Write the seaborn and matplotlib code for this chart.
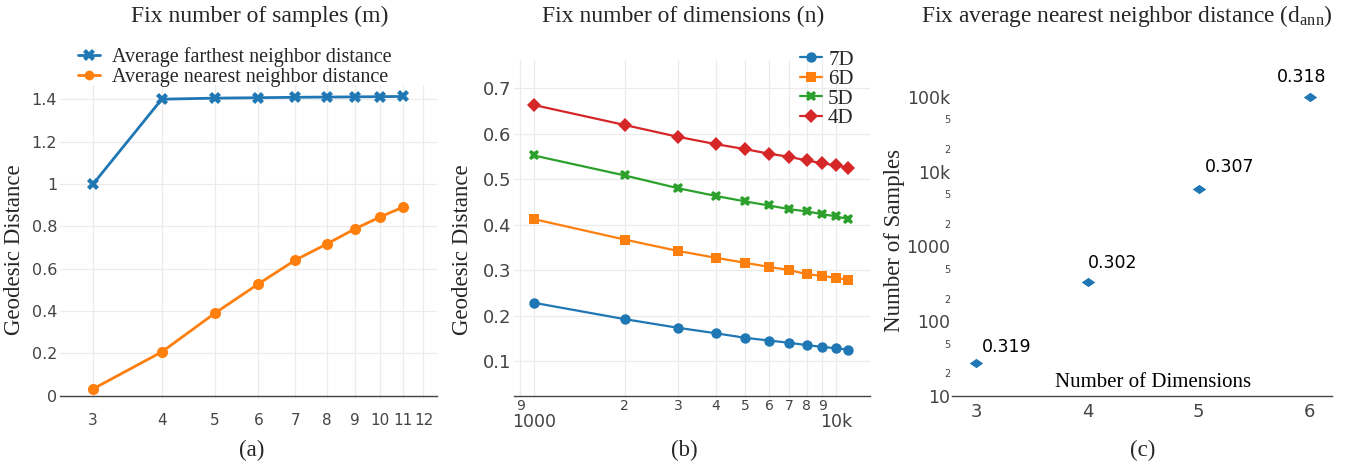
import numpy as np
import pandas as pd
import matplotlib
matplotlib.use("Agg")
import matplotlib.pyplot as plt
from matplotlib.lines import Line2D
from matplotlib.ticker import FixedLocator, FixedFormatter, NullLocator, NullFormatter
import seaborn as sns

# ---------------- data ----------------
a_dims = [3, 4, 5, 6, 7, 8, 9, 10, 11]
a_far = [1.000, 1.400, 1.405, 1.407, 1.409, 1.410, 1.411, 1.412, 1.413]
a_near = [0.033, 0.207, 0.390, 0.528, 0.640, 0.717, 0.788, 0.844, 0.890]
a_xticks = [3, 4, 5, 6, 7, 8, 9, 10, 11, 12]
a_yticks = [0, 0.2, 0.4, 0.6, 0.8, 1.0, 1.2, 1.4]
a_ylabels = ["0", "0.2", "0.4", "0.6", "0.8", "1", "1.2", "1.4"]
a_series = ["Average farthest neighbor distance", "Average nearest neighbor distance"]

b_samples = [1000, 2000, 3000, 4000, 5000, 6000, 7000, 8000, 9000, 10000, 11000]
b_7d = [0.228, 0.192, 0.173, 0.161, 0.151, 0.145, 0.140, 0.135, 0.131, 0.128, 0.125]
b_6d = [0.412, 0.367, 0.342, 0.327, 0.316, 0.307, 0.300, 0.291, 0.287, 0.283, 0.278]
b_5d = [0.552, 0.508, 0.480, 0.463, 0.451, 0.442, 0.434, 0.429, 0.423, 0.418, 0.412]
b_4d = [0.663, 0.619, 0.593, 0.577, 0.566, 0.556, 0.549, 0.541, 0.535, 0.530, 0.525]
b_series = ["7D", "6D", "5D", "4D"]
b_major = [1000, 10000]
b_major_labels = ["1000", "10k"]
b_minor = [900, 2000, 3000, 4000, 5000, 6000, 7000, 8000, 9000]
b_minor_labels = ["9", "2", "3", "4", "5", "6", "7", "8", "9"]
b_yticks = [0.1, 0.2, 0.3, 0.4, 0.5, 0.6, 0.7]

c_dims = [3, 4, 5, 6]
c_samples = [28, 330, 5800, 100000]
c_labels = ["0.319", "0.302", "0.307", "0.318"]
c_major = [10, 100, 1000, 10000, 100000]
c_major_labels = ["10", "100", "1000", "10k", "100k"]
c_minor = [20, 50, 200, 500, 2000, 5000, 20000, 50000]
c_minor_labels = ["2", "5", "2", "5", "2", "5", "2", "5"]

# ---------------- style ----------------
sns.set_style("white")
plt.rcParams["font.family"] = ["DejaVu Sans"]
plt.rcParams["mathtext.fontset"] = "custom"
plt.rcParams["mathtext.rm"] = "Liberation Serif"
plt.rcParams["mathtext.it"] = "Liberation Serif:italic"

SERIF = "Liberation Serif"
TICK = "#444444"
GRID = "#ebebeb"
BLUE, ORANGE, GREEN, RED = "#1f77b4", "#ff7f0e", "#2ca02c", "#d62728"

W, H = 1346, 465
fig = plt.figure(figsize=(W / 100, H / 100), dpi=100)


def rect(l, r, t, b):
    return [l / W, 1 - b / H, (r - l) / W, (b - t) / H]


def clean(ax):
    for s in ["top", "right", "left"]:
        ax.spines[s].set_visible(False)
    ax.spines["bottom"].set_color(TICK)
    ax.spines["bottom"].set_linewidth(1.0)
    ax.tick_params(which="both", length=0, colors=TICK)
    ax.set_facecolor("white")


# ---------------- (a) ----------------
axa = fig.add_axes(rect(60, 437, 85, 399))
dfa = pd.DataFrame({
    "dim": a_dims * 2,
    "dist": a_far + a_near,
    "kind": [a_series[0]] * len(a_dims) + [a_series[1]] * len(a_dims),
})
sns.lineplot(data=dfa, x="dim", y="dist", hue="kind", style="kind",
             palette={a_series[0]: BLUE, a_series[1]: ORANGE},
             markers={a_series[0]: "X", a_series[1]: "o"}, dashes=False,
             linewidth=2.0, markersize=8, markeredgewidth=0, legend=False, ax=axa)
axa.set_xscale("log")
axa.set_xlim(2.61, 12.7)
axa.set_ylim(-0.015, 1.467)
axa.spines["bottom"].set_position(("data", 0))
axa.xaxis.set_major_locator(FixedLocator(a_xticks))
axa.xaxis.set_major_formatter(FixedFormatter([str(v) for v in a_xticks]))
axa.xaxis.set_minor_locator(NullLocator())
axa.xaxis.set_minor_formatter(NullFormatter())
axa.set_yticks(a_yticks)
axa.set_yticklabels(a_ylabels)
clean(axa)
axa.tick_params(axis="x", labelsize=11, pad=12.5)
axa.tick_params(axis="y", labelsize=11.5, pad=2)
axa.grid(True, which="major", color=GRID, linewidth=0.9)
axa.set_axisbelow(True)
axa.set_xlabel("")
axa.set_ylabel("Geodesic Distance", family=SERIF, fontsize=16.5)
axa.yaxis.set_label_coords(-0.093, 0.475)
ha = [Line2D([], [], color=BLUE, lw=2, marker="X", ms=8, mew=0),
      Line2D([], [], color=ORANGE, lw=2, marker="o", ms=7, mew=0)]
fig.legend(ha, a_series, loc="upper left", bbox_to_anchor=(78 / W, 1 - 47 / H),
           frameon=False, prop={"family": SERIF, "size": 14.5},
           handlelength=1.1, handletextpad=0.6, labelspacing=0.05, borderpad=0,
           borderaxespad=0)

# ---------------- (b) ----------------
axb = fig.add_axes(rect(514, 870, 60, 396))
dfb = pd.DataFrame({
    "n": b_samples * 4,
    "dist": b_7d + b_6d + b_5d + b_4d,
    "dim": sum([[s] * len(b_samples) for s in b_series], []),
})
b_pal = {"7D": BLUE, "6D": ORANGE, "5D": GREEN, "4D": RED}
b_mk = {"7D": "o", "6D": "s", "5D": "X", "4D": "D"}
sns.lineplot(data=dfb, x="n", y="dist", hue="dim", style="dim", palette=b_pal,
             markers=b_mk, dashes=False, linewidth=1.6, markersize=7.5,
             markeredgewidth=0, legend=False, ax=axb)
axb.set_xscale("log")
axb.set_xlim(859, 12960)
axb.set_ylim(0.023, 0.762)
axb.xaxis.set_major_locator(FixedLocator(b_major))
axb.xaxis.set_major_formatter(FixedFormatter(b_major_labels))
axb.xaxis.set_minor_locator(FixedLocator(b_minor))
axb.xaxis.set_minor_formatter(FixedFormatter(b_minor_labels))
axb.set_yticks(b_yticks)
axb.set_yticklabels([f"{v:.1f}" for v in b_yticks])
clean(axb)
axb.tick_params(axis="x", which="major", labelsize=12.5, pad=12.5)
axb.tick_params(axis="x", which="minor", labelsize=10, pad=2.5)
axb.tick_params(axis="y", labelsize=13, pad=2)
axb.grid(True, axis="x", which="both", color=GRID, linewidth=0.9)
axb.grid(True, axis="y", which="major", color=GRID, linewidth=0.9)
axb.set_axisbelow(True)
axb.set_xlabel("")
axb.set_ylabel("Geodesic Distance", family=SERIF, fontsize=16.5)
axb.yaxis.set_label_coords(-0.115, 0.435)
hb = [Line2D([], [], color=b_pal[s], lw=1.6, marker=b_mk[s], ms=7.5, mew=0) for s in b_series]
fig.legend(hb, b_series, loc="upper left", bbox_to_anchor=(800 / W, 1 - 50 / H),
           frameon=False, prop={"family": SERIF, "size": 15},
           handlelength=1.05, handletextpad=0.3, labelspacing=0.0, borderpad=0,
           borderaxespad=0)

# ---------------- (c) ----------------
axc = fig.add_axes(rect(952, 1332, 60, 396))
dfc = pd.DataFrame({"dim": c_dims, "n": c_samples})
diamond = [(-1.45, 0), (0, 1), (1.45, 0), (0, -1)]
sns.scatterplot(data=dfc, x="dim", y="n", marker=diamond, s=95, color=BLUE,
                linewidth=0, ax=axc)
axc.set_yscale("log")
axc.set_xlim(2.78, 6.2)
axc.set_ylim(10, 10 ** 5.49)
axc.set_xticks(c_dims)
axc.set_xticklabels([str(v) for v in c_dims])
axc.yaxis.set_major_locator(FixedLocator(c_major))
axc.yaxis.set_major_formatter(FixedFormatter(c_major_labels))
axc.yaxis.set_minor_locator(FixedLocator(c_minor))
axc.yaxis.set_minor_formatter(FixedFormatter(c_minor_labels))
clean(axc)
axc.tick_params(axis="x", labelsize=13, pad=5)
axc.tick_params(axis="y", which="major", labelsize=12.5, pad=1)
axc.tick_params(axis="y", which="minor", labelsize=7, pad=1)
axc.grid(False)
axc.set_xlabel("")
axc.set_ylabel("Number of Samples", family=SERIF, fontsize=16.5)
axc.yaxis.set_label_coords(-0.124, 0.464)
axc.text(0.53, 0.04, "Number of Dimensions", transform=axc.transAxes,
         ha="center", va="center", family=SERIF, fontsize=15, color="black")
c_offsets = [(22, 11), (18, 14), (22, 16), (-6, 14)]
for xv, yv, lab, off in zip(c_dims, c_samples, c_labels, c_offsets):
    axc.annotate(lab, (xv, yv), xytext=off, textcoords="offset points",
                 ha="center", va="center", fontsize=12.5, color="black")

# ---------------- titles / captions ----------------
fig.text(260 / W, 1 - 16 / H, "Fix number of samples (m)", ha="center", va="center",
         family=SERIF, fontsize=17)
fig.text(683 / W, 1 - 16 / H, "Fix number of dimensions (n)", ha="center", va="center",
         family=SERIF, fontsize=17)
fig.text(1127 / W, 1 - 16 / H, r"Fix average nearest neighbor distance (d$_{\mathrm{ann}}$)",
         ha="center", va="center", family=SERIF, fontsize=16.8)
for x, lab in [(252, "(a)"), (684, "(b)"), (1143, "(c)")]:
    fig.text(x / W, 1 - 450 / H, lab, ha="center", va="center", family=SERIF, fontsize=16.5)

fig.savefig("out.png", dpi=100, facecolor="white")
